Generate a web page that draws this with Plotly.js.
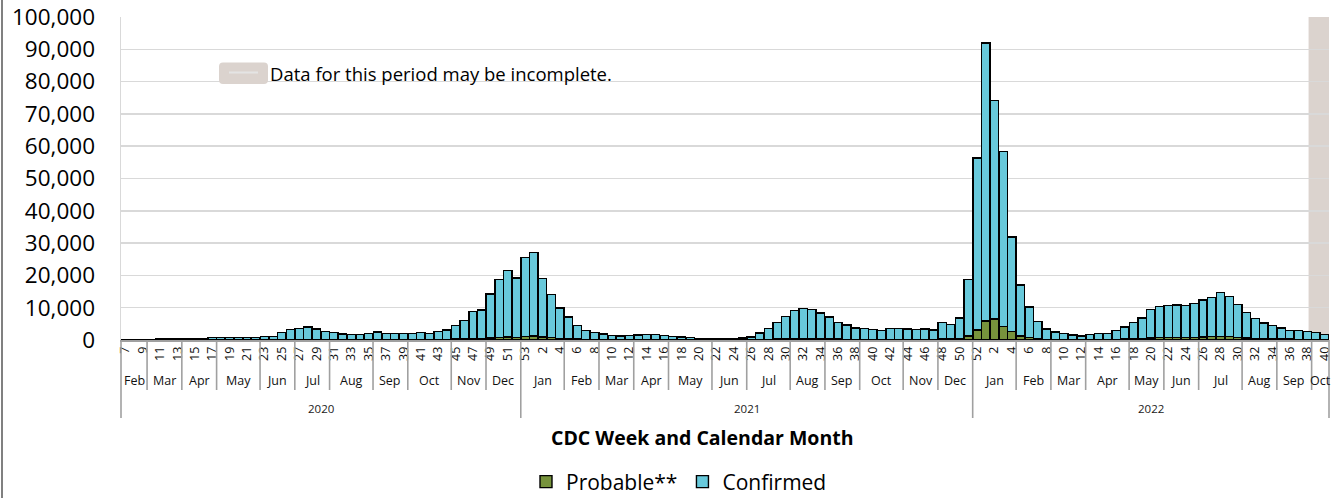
<!DOCTYPE html>
<html><head><meta charset="utf-8">
<script src="https://cdn.plot.ly/plotly-3.0.1.min.js"></script>
<style>html,body{margin:0;padding:0;background:#fff;overflow:hidden}#chart{width:1339px;height:498px}</style>
</head><body><div id="chart"></div>
<script>
// CDC week number of each bar (grouped by calendar month and year as in the source)
const weeks = [
  7,8,9,10,11,12,13,14,15,16,17,18,19,20,21,22,23,24,25,26,27,28,29,30,31,32,33,34,35,36,37,38,39,40,41,42,43,44,45,46,47,48,49,50,51,52,
  53,1,2,3,4,5,6,7,8,9,10,11,12,13,14,15,16,17,18,19,20,21,22,23,24,25,26,27,28,29,30,31,32,33,34,35,36,37,38,39,40,41,42,43,44,45,46,47,48,49,50,51,
  52,1,2,3,4,5,6,7,8,9,10,11,12,13,14,15,16,17,18,19,20,21,22,23,24,25,26,27,28,29,30,31,32,33,34,35,36,37,38,39,40
];
const probable = [
  0,0,0,0,0,0,0,0,0,0,0,0,0,0,0,0,0,50,50,50,50,60,60,50,50,50,40,40,50,60,60,60,80,100,120,120,150,180,250,330,450,500,650,800,900,850,
  1100,1200,950,700,500,350,250,180,150,120,100,90,100,110,120,120,100,80,70,60,40,30,25,25,30,40,60,120,200,280,350,420,450,430,400,350,280,240,200,200,180,170,200,200,200,200,200,200,300,300,450,1300,
  3100,5900,6500,4250,2600,1250,800,400,200,150,100,80,70,80,100,120,180,250,350,450,650,750,850,850,800,850,950,1050,1150,1000,850,650,500,400,350,300,250,230,220,200,150
];
const confirmed = [
  0,5,20,120,400,330,250,300,420,550,800,830,850,850,820,800,1000,1100,2350,3150,3600,3990,3390,2650,2250,1850,1610,1610,1950,2440,1940,1940,1920,2000,2180,1980,2450,2920,4150,5770,8350,8800,13550,18000,20600,18350,
  24400,25900,18050,13400,9400,6750,4150,2770,2250,1780,1350,1160,1350,1440,1630,1630,1350,970,880,690,460,370,275,275,420,560,890,2080,3400,5220,6850,8680,9350,9070,8000,6750,5120,4360,3550,3450,3120,2830,3350,3350,3250,3100,3250,2900,5100,4500,6350,17500,
  53300,86100,67600,54050,29300,15750,9400,5350,3200,2350,1950,1420,1230,1570,1900,1980,2820,3800,5150,6350,8850,9550,9750,9950,9900,10400,11450,12050,13550,12500,10150,7850,6100,4900,4150,3450,2750,2670,2480,2200,1500
];
const monthLabels = ['Feb','Mar','Apr','May','Jun','Jul','Aug','Sep','Oct','Nov','Dec',
  'Jan','Feb','Mar','Apr','May','Jun','Jul','Aug','Sep','Oct','Nov','Dec',
  'Jan','Feb','Mar','Apr','May','Jun','Jul','Aug','Sep','Oct'];
const weeksPerMonth = [3,4,4,5,4,4,5,4,5,4,4, 5,4,4,4,5,4,5,4,4,5,4,4, 5,4,4,5,4,4,5,4,4,2];
const yearLabels = ['2020','2021','2022'];
const weeksPerYear = [46,52,41];
const yTickVals = [0,10000,20000,30000,40000,50000,60000,70000,80000,90000,100000];
const incompleteWeeks = 2;   // last weeks shaded as possibly incomplete
const incompleteNote = 'Data for this period may be incomplete.';
const seriesNames = ['Probable**','Confirmed'];

// ---- layout geometry ----
const FW = 1339, FH = 498;
const M = {l:121, r:10, t:17, b:158, autoexpand:false};
const PW = FW - M.l - M.r, PH = FH - M.t - M.b;
const py = p => (M.t + PH - p) / PH;   // pixel y -> paper y
const px = p => (p - M.l) / PW;        // pixel x -> paper x
const FONT = 'Open Sans, sans-serif';

const n = weeks.length;
const idx = weeks.map((_, i) => i);
const xr = [-0.5, n - 0.5];
const dx = b => (b - xr[0]) / (xr[1] - xr[0]); // boundary (data) -> paper x

const tickVals = idx.filter(i => i % 2 === 0);
const tickText = tickVals.map(i => String(weeks[i]));

const shapes = [];
const annotations = [];
const sepColor = '#a0a0a0';

// incomplete-data shading
shapes.push({type:'rect', xref:'x', yref:'paper', x0: n - incompleteWeeks - 0.85, x1: xr[1], y0:0, y1:1,
  fillcolor:'#dbd3ce', line:{width:0}, layer:'between'});

// year boundaries & labels
const yearBounds = [0];
weeksPerYear.forEach((c, k) => {
  const s = yearBounds[yearBounds.length - 1];
  yearBounds.push(s + c);
  annotations.push({xref:'x', yref:'paper', x:s + c/2 - 0.5, y:py(408), text:yearLabels[k], showarrow:false,
    font:{family:FONT, size:11.5, color:'#1a1a1a'}, xanchor:'center', yanchor:'middle'});
});
yearBounds.forEach(b => {
  shapes.push({type:'line', xref:'paper', yref:'paper', x0:dx(b - 0.5), x1:dx(b - 0.5), y0:0, y1:py(418),
    line:{color:sepColor, width:1.6}});
});
// month boundaries & labels
let s = 0;
weeksPerMonth.forEach((c, k) => {
  annotations.push({xref:'x', yref:'paper', x:s + c/2 - 0.5, y:py(381), text:monthLabels[k], showarrow:false,
    font:{family:FONT, size:12.5, color:'#111'}, xanchor:'center', yanchor:'middle'});
  s += c;
  if (!yearBounds.includes(s)) {
    shapes.push({type:'line', xref:'paper', yref:'paper', x0:dx(s - 0.5), x1:dx(s - 0.5), y0:0, y1:py(390),
      line:{color:sepColor, width:1.6}});
  }
});

// rounded rectangle path (pixel box -> paper coords)
function roundRect(x0, y0, x1, y1, r) {
  const X = v => px(v), Y = v => py(v);
  return `M${X(x0+r)},${Y(y0)} L${X(x1-r)},${Y(y0)} Q${X(x1)},${Y(y0)} ${X(x1)},${Y(y0+r)} ` +
         `L${X(x1)},${Y(y1-r)} Q${X(x1)},${Y(y1)} ${X(x1-r)},${Y(y1)} L${X(x0+r)},${Y(y1)} ` +
         `Q${X(x0)},${Y(y1)} ${X(x0)},${Y(y1-r)} L${X(x0)},${Y(y0+r)} Q${X(x0)},${Y(y0)} ${X(x0+r)},${Y(y0)} Z`;
}

// in-plot note box for shading
shapes.push({type:'rect', xref:'paper', yref:'paper', x0:px(198), x1:px(622), y0:py(100), y1:py(38),
  fillcolor:'#ffffff', line:{width:0}, layer:'between'});
shapes.push({type:'path', xref:'paper', yref:'paper', path:roundRect(219, 62.5, 268, 84, 4),
  fillcolor:'#dbd3ce', line:{width:0}, layer:'above'});
shapes.push({type:'line', xref:'paper', yref:'paper', x0:px(229), x1:px(258), y0:py(72.5), y1:py(72.5),
  line:{color:'#e4e4e4', width:2}, layer:'above'});
annotations.push({xref:'paper', yref:'paper', x:px(268), y:py(73), text:incompleteNote, showarrow:false,
  xanchor:'left', yanchor:'middle', font:{family:FONT, size:18.5, color:'#000'}});

// axis title
annotations.push({xref:'paper', yref:'paper', x:px(702), y:py(437), text:'CDC Week and Calendar Month', showarrow:false,
  xanchor:'center', yanchor:'middle', font:{family:FONT, size:19.5, color:'#000', weight:'bold'}});

// outer frame line at left
shapes.push({type:'line', xref:'paper', yref:'paper', x0:px(2), x1:px(2), y0:py(0), y1:py(498),
  line:{color:'#808080', width:2}});

const traces = [
  {type:'bar', name:seriesNames[0], x:idx, y:probable,
   marker:{color:'#77933c', line:{color:'#000', width:1.4}}},
  {type:'bar', name:seriesNames[1], x:idx, y:confirmed,
   marker:{color:'#68c9db', line:{color:'#000', width:1.4}}}
];

const layout = {
  width:FW, height:FH, margin:M,
  paper_bgcolor:'#fff', plot_bgcolor:'#fff',
  barmode:'stack', bargap:0.04,
  font:{family:FONT, color:'#000'},
  xaxis:{type:'linear', range:xr, tickmode:'array', tickvals:tickVals, ticktext:tickText, tickangle:-90,
    tickfont:{family:FONT, size:12.5, color:'#111'}, showgrid:false, zeroline:false,
    showline:true, linecolor:sepColor, linewidth:1.6, ticks:'', fixedrange:true, automargin:false},
  yaxis:{range:[0,100000], tickmode:'array', tickvals:yTickVals, tickformat:',',
    tickfont:{family:FONT, size:22.5, color:'#000'}, showgrid:true, gridcolor:'#d9d9d9', gridwidth:1.5,
    zeroline:false, showline:true, linecolor:'#d9d9d9', linewidth:1.5,
    ticks:'outside', ticklen:20, tickcolor:'rgba(0,0,0,0)', fixedrange:true, automargin:false},
  legend:{orientation:'h', x:px(526), xanchor:'left', y:py(482), yanchor:'middle',
    font:{family:FONT, size:21, color:'#000'}, traceorder:'normal', itemwidth:30, bgcolor:'rgba(0,0,0,0)'},
  shapes:shapes, annotations:annotations, showlegend:true
};

Plotly.newPlot('chart', traces, layout, {displayModeBar:false, staticPlot:true});
</script></body></html>
